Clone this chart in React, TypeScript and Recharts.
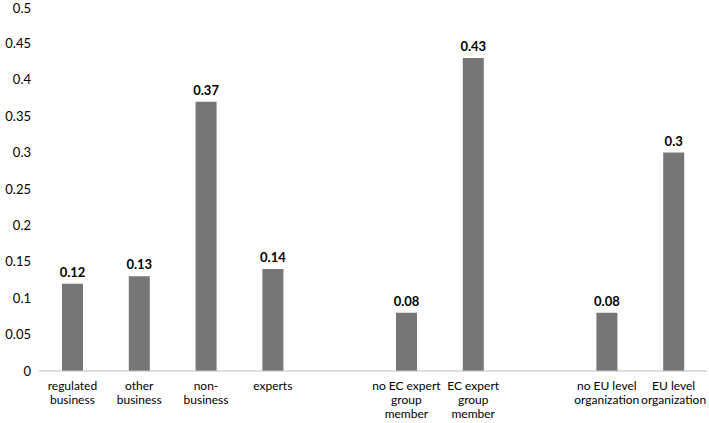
import { BarChart, Bar, XAxis, YAxis, LabelList } from 'recharts';

const categories = [
  'regulated business',
  'other business',
  'non-business',
  'experts',
  '',
  'no EC expert group member',
  'EC expert group member',
  '',
  'no EU level organization',
  'EU level organization',
];
const values: (number | null)[] = [0.12, 0.13, 0.37, 0.14, null, 0.08, 0.43, null, 0.08, 0.3];
const tickLines: Record<string, string[]> = {
  'regulated business': ['regulated', 'business'],
  'other business': ['other', 'business'],
  'non-business': ['non-', 'business'],
  experts: ['experts'],
  'no EC expert group member': ['no EC expert', 'group', 'member'],
  'EC expert group member': ['EC expert', 'group', 'member'],
  'no EU level organization': ['no EU level', 'organization'],
  'EU level organization': ['EU level', 'organization'],
};
const yTicks = [0, 0.05, 0.1, 0.15, 0.2, 0.25, 0.3, 0.35, 0.4, 0.45, 0.5];

const data = categories.map((name, i) => ({ name, value: values[i] }));

const FONT = 'Lato, "Open Sans", sans-serif';

function CategoryTick({ x, y, payload }: any) {
  const lines = tickLines[payload.value] || [];
  return (
    <text x={x} y={y + 11} textAnchor="middle" fill="#000" fontSize={12} fontFamily={FONT}>
      {lines.map((l, i) => (
        <tspan key={i} x={x} dy={i === 0 ? 0 : 14}>{l}</tspan>
      ))}
    </text>
  );
}

export default function App() {
  return (
    <div style={{ position: 'absolute', left: 0, top: 0, background: '#fff' }}>
      <BarChart width={709} height={423} data={data} margin={{ top: 7, right: 2, bottom: 0, left: 0 }}>
        <XAxis dataKey="name" height={52} interval={0} tickLine={false} axisLine={{ stroke: '#bfbfbf' }} tick={<CategoryTick />} />
        <YAxis
          width={39}
          domain={[0, 0.5]}
          ticks={yTicks}
          axisLine={false}
          tickLine={false}
          tickFormatter={(v: number) => String(Number(v.toFixed(2)))}
          tick={{ fill: '#000', fontSize: 13, fontFamily: FONT }}
        />
        <Bar dataKey="value" fill="#767676" barSize={21} isAnimationActive={false}>
          <LabelList dataKey="value" position="top" offset={7} fill="#000" fontSize={13} fontWeight="bold" fontFamily={FONT} />
        </Bar>
      </BarChart>
    </div>
  );
}
